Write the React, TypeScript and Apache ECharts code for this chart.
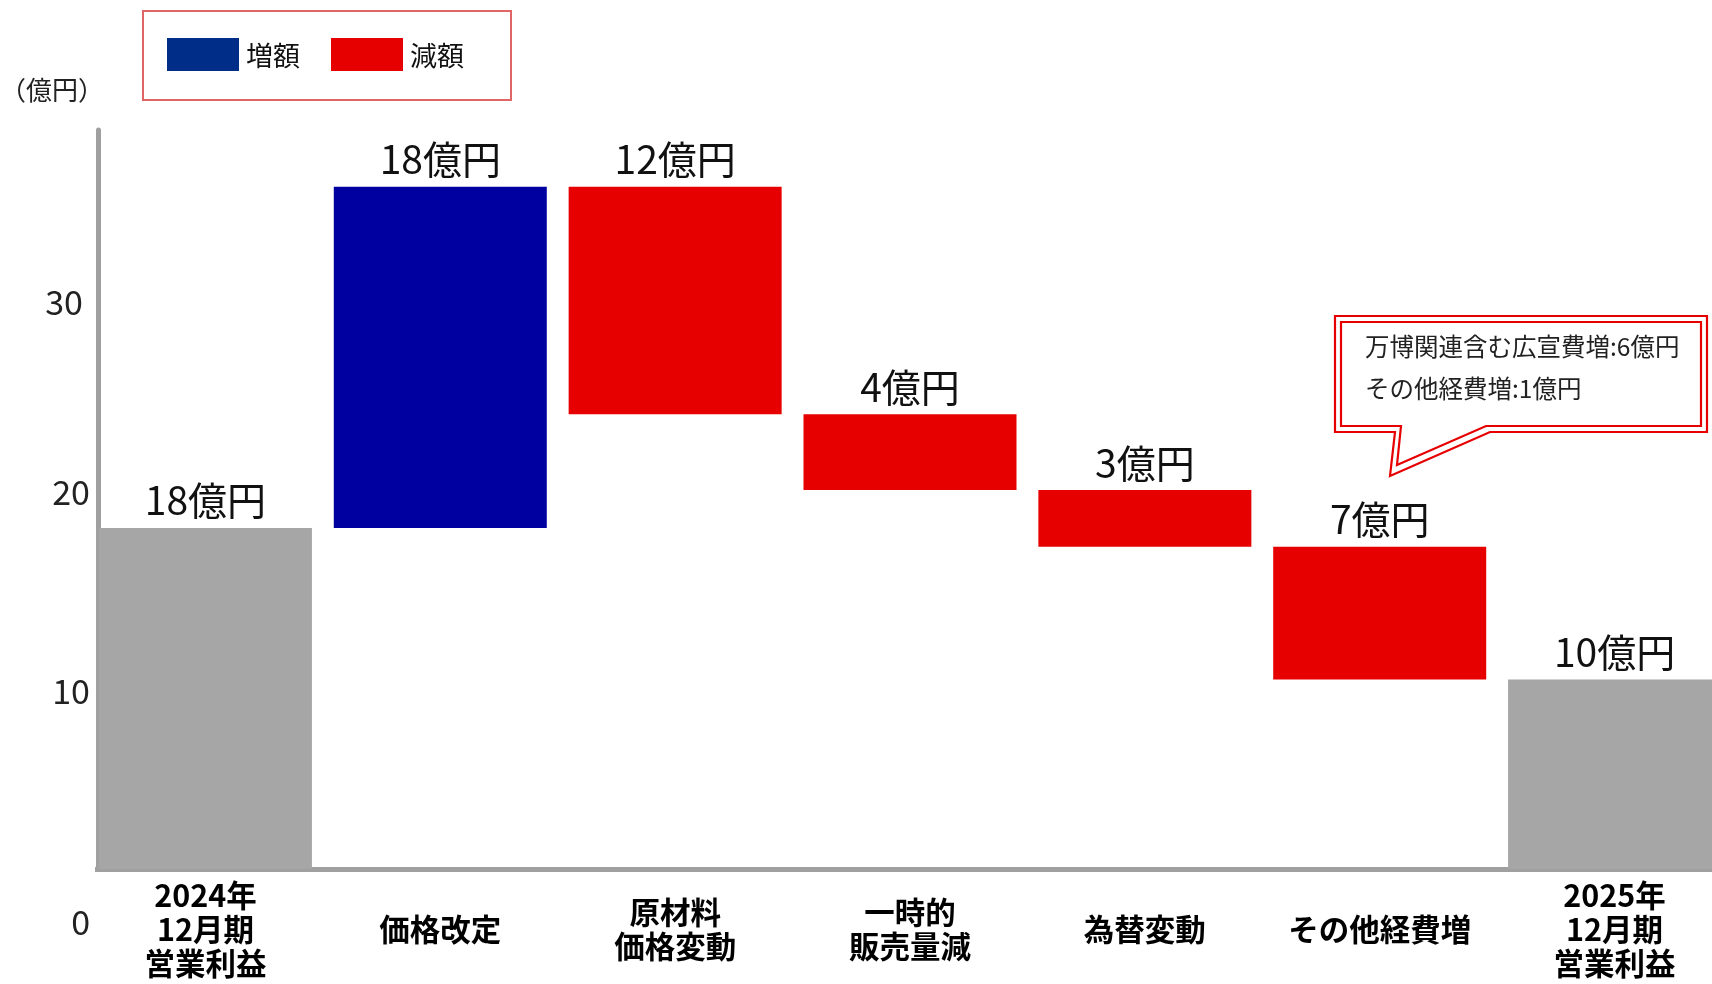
import React, { useEffect, useRef } from "react";
import * as echarts from "echarts";

const categories = [
  "2024年\n12月期\n営業利益",
  "価格改定",
  "原材料\n価格変動",
  "一時的\n販売量減",
  "為替変動",
  "その他経費増",
  "2025年\n12月期\n営業利益",
];
const totals: (number | null)[] = [18, null, null, null, null, null, 10];
const increases: (number | null)[] = [null, 18, null, null, null, null, null];
const decreases: (number | null)[] = [null, null, 12, 4, 3, 7, null];
const yTickLabels = [0, 10, 20, 30];
const legendNames = ["増額", "減額"];
const unitLabel = "（億円）";
const calloutLines = ["万博関連含む広宣費増:6億円", "その他経費増:1億円"];

const FONT = "'Noto Sans CJK JP', 'Noto Sans', sans-serif";

export default function App() {
  const ref = useRef<HTMLDivElement>(null);
  useEffect(() => {
    if (!ref.current) return;
    const chart = echarts.init(ref.current, null, { renderer: "svg" });

    // waterfall base computed from the data
    const base: (number | string)[] = [];
    let running = totals[0] as number;
    categories.forEach((_, i) => {
      if (totals[i] != null) {
        base.push("-");
        return;
      }
      if (increases[i] != null) {
        base.push(running);
        running += increases[i] as number;
      } else if (decreases[i] != null) {
        running -= decreases[i] as number;
        base.push(running);
      } else base.push("-");
    });
    const toData = (a: (number | null)[]) => a.map((v) => (v == null ? "-" : v));

    const valueLabel = {
      show: true,
      position: "top",
      distance: 10,
      fontSize: 39,
      color: "#111",
      fontFamily: FONT,
      formatter: (p: any) => `${p.value}億円`,
    };

    const outerPts = [
      [1335, 316],
      [1707, 316],
      [1707, 432],
      [1490, 432],
      [1390, 476],
      [1395, 432],
      [1335, 432],
    ];
    const innerPts = [
      [1341, 322],
      [1701, 322],
      [1701, 426],
      [1486, 426],
      [1397, 465],
      [1401, 426],
      [1341, 426],
    ];

    const yLabelStyle = { fontSize: 34, color: "#222", fontFamily: FONT };

    chart.setOption({
      animation: false,
      textStyle: { fontFamily: FONT },
      grid: { left: 88, right: 0, top: 130, bottom: 115, containLabel: false },
      legend: {
        left: 143,
        top: 11,
        padding: [27, 47, 29, 24],
        borderColor: "#e06666",
        borderWidth: 2,
        itemWidth: 72,
        itemHeight: 33,
        itemGap: 31,
        icon: "rect",
        textStyle: { fontSize: 27, color: "#111", fontFamily: FONT, padding: [0, 0, 0, 2] },
        data: [
          { name: legendNames[0], itemStyle: { color: "#002d87" } },
          { name: legendNames[1], itemStyle: { color: "#e60000" } },
        ],
      },
      xAxis: {
        type: "category",
        data: categories,
        axisLine: { show: true, lineStyle: { color: "#a0a0a0", width: 5 } },
        axisTick: { show: false },
        axisLabel: {
          interval: 0,
          fontSize: 30.5,
          fontWeight: "bold",
          color: "#000",
          lineHeight: 34,
          verticalAlign: "middle",
          margin: 59,
          fontFamily: FONT,
        },
      },
      yAxis: {
        type: "value",
        min: 0,
        max: 39,
        interval: 10,
        offset: -10,
        axisLine: { show: true, lineStyle: { color: "#a0a0a0", width: 5 } },
        axisTick: { show: false },
        splitLine: { show: false },
        axisLabel: {
          showMaxLabel: false,
          margin: 8,
          fontSize: 34,
          color: "#222",
          fontFamily: FONT,
          formatter: (v: number) => {
            if (!yTickLabels.includes(v)) return "";
            if (v === 0) return "{z|0}";
            if (v === 10) return "{t|10}";
            if (v === 30) return "{h|30}";
            return `{n|${v}}`;
          },
          rich: {
            z: { ...yLabelStyle, padding: [102, 0, 0, 0] },
            t: { ...yLabelStyle, padding: [20, 0, 0, 0] },
            h: { ...yLabelStyle, padding: [0, 7, 0, 0] },
            n: { ...yLabelStyle },
          },
        },
      },
      series: [
        {
          name: "base",
          type: "bar",
          stack: "w",
          barWidth: 213,
          itemStyle: { color: "transparent" },
          emphasis: { disabled: true },
          data: base,
        },
        {
          name: "total",
          type: "bar",
          stack: "w",
          barWidth: 213,
          itemStyle: { color: "#a6a6a6" },
          label: valueLabel,
          data: toData(totals),
        },
        {
          name: legendNames[0],
          type: "bar",
          stack: "w",
          barWidth: 213,
          itemStyle: { color: "#0000a0" },
          label: valueLabel,
          data: toData(increases),
        },
        {
          name: legendNames[1],
          type: "bar",
          stack: "w",
          barWidth: 213,
          itemStyle: { color: "#e60000" },
          label: valueLabel,
          data: toData(decreases),
        },
      ],
      graphic: [
        {
          type: "rect",
          z: 50,
          shape: { x: 78, y: 862, width: 17, height: 16 },
          style: { fill: "#fff" },
        },
        {
          type: "text",
          left: 0,
          top: 75,
          style: { text: unitLabel, fontSize: 26, fill: "#222", fontFamily: FONT },
        },
        {
          type: "polygon",
          z: 100,
          shape: { points: outerPts },
          style: { fill: "#fff", stroke: "#e60000", lineWidth: 2.2, lineJoin: "miter" },
        },
        {
          type: "polygon",
          z: 101,
          shape: { points: innerPts },
          style: { fill: "#fff", stroke: "#e60000", lineWidth: 2.2, lineJoin: "miter" },
        },
        ...calloutLines.map((t, i) => ({
          type: "text",
          z: 102,
          x: 1365,
          y: 345 + i * 42,
          style: {
            text: t,
            fontSize: 24.5,
            fill: "#222",
            fontFamily: FONT,
            verticalAlign: "middle",
          },
        })),
      ],
    });
    return () => chart.dispose();
  }, []);
  return (
    <div
      ref={ref}
      style={{ position: "fixed", left: 0, top: 0, width: 1732, height: 984 }}
    />
  );
}
